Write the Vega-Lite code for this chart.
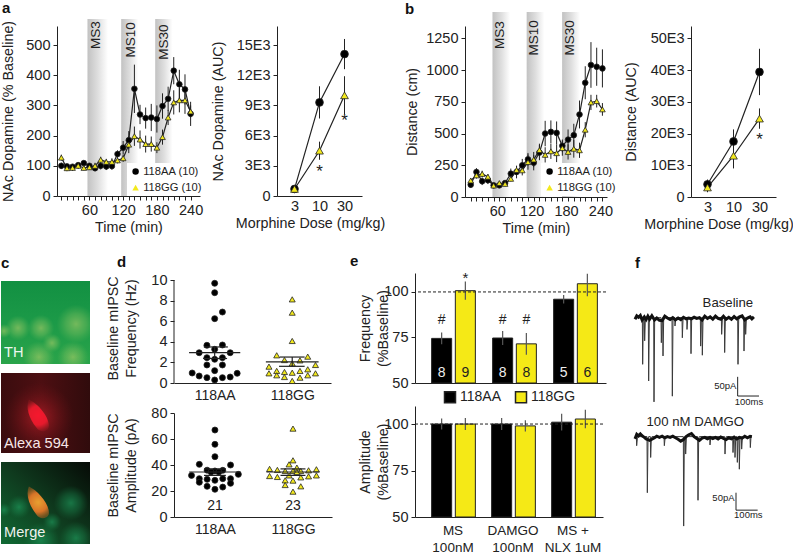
{
"$schema":"https://vega.github.io/schema/vega-lite/v6.json",
"padding":{"left":-2,"top":1,"right":0,"bottom":0},
"background":"white",
"config":{"view":{"stroke":null},
"font":"Liberation Sans",
"axis":{"grid":false,"labelFont":"Liberation Sans","titleFont":"Liberation Sans","labelFontSize":14.5,"titleFontSize":14.3,"titleFontWeight":"normal","labelColor":"#222","titleColor":"#222","domainColor":"#222","tickColor":"#222","tickSize":4,"labelPadding":3,"labelOverlap":false,"labelFlush":false,"titleLineHeight":18},
"title":{"font":"Liberation Sans","fontSize":15,"fontWeight":"bold","color":"#111","anchor":"start","frame":"group"},
"legend":{"labelFont":"Liberation Sans","labelColor":"#222"},
"text":{"font":"Liberation Sans","color":"#222"}},
"datasets":{
"at":[
{"t":10,"g":"118AA (10)","v":100,"lo":90,"hi":110},{"t":20,"g":"118AA (10)","v":98,"lo":90,"hi":106},{"t":30,"g":"118AA (10)","v":97,"lo":89,"hi":105},{"t":40,"g":"118AA (10)","v":102,"lo":94,"hi":110},{"t":50,"g":"118AA (10)","v":109,"lo":101,"hi":117},{"t":60,"g":"118AA (10)","v":100,"lo":92,"hi":108},{"t":70,"g":"118AA (10)","v":92,"lo":82,"hi":102},{"t":80,"g":"118AA (10)","v":100,"lo":88,"hi":112},{"t":90,"g":"118AA (10)","v":98,"lo":86,"hi":110},{"t":100,"g":"118AA (10)","v":99,"lo":87,"hi":111},{"t":110,"g":"118AA (10)","v":139,"lo":127,"hi":151},{"t":120,"g":"118AA (10)","v":160,"lo":138,"hi":182},{"t":130,"g":"118AA (10)","v":185,"lo":155,"hi":215},{"t":140,"g":"118AA (10)","v":355,"lo":275,"hi":435},{"t":150,"g":"118AA (10)","v":270,"lo":238,"hi":302},{"t":160,"g":"118AA (10)","v":258,"lo":223,"hi":293},{"t":170,"g":"118AA (10)","v":260,"lo":215,"hi":305},{"t":180,"g":"118AA (10)","v":255,"lo":210,"hi":300},{"t":190,"g":"118AA (10)","v":298,"lo":256,"hi":340},{"t":200,"g":"118AA (10)","v":322,"lo":282,"hi":362},{"t":210,"g":"118AA (10)","v":415,"lo":370,"hi":460},{"t":220,"g":"118AA (10)","v":370,"lo":322,"hi":418},{"t":230,"g":"118AA (10)","v":353,"lo":303,"hi":403},{"t":240,"g":"118AA (10)","v":272,"lo":232,"hi":312},
{"t":10,"g":"118GG (10)","v":127,"lo":117,"hi":137},{"t":20,"g":"118GG (10)","v":92,"lo":82,"hi":102},{"t":30,"g":"118GG (10)","v":93,"lo":83,"hi":103},{"t":40,"g":"118GG (10)","v":100,"lo":90,"hi":110},{"t":50,"g":"118GG (10)","v":93,"lo":85,"hi":101},{"t":60,"g":"118GG (10)","v":95,"lo":87,"hi":103},{"t":70,"g":"118GG (10)","v":100,"lo":90,"hi":110},{"t":80,"g":"118GG (10)","v":120,"lo":110,"hi":130},{"t":90,"g":"118GG (10)","v":113,"lo":103,"hi":123},{"t":100,"g":"118GG (10)","v":113,"lo":101,"hi":125},{"t":110,"g":"118GG (10)","v":118,"lo":108,"hi":128},{"t":120,"g":"118GG (10)","v":125,"lo":113,"hi":137},{"t":130,"g":"118GG (10)","v":170,"lo":142,"hi":198},{"t":140,"g":"118GG (10)","v":198,"lo":166,"hi":230},{"t":150,"g":"118GG (10)","v":187,"lo":157,"hi":217},{"t":160,"g":"118GG (10)","v":172,"lo":144,"hi":200},{"t":170,"g":"118GG (10)","v":172,"lo":147,"hi":197},{"t":180,"g":"118GG (10)","v":160,"lo":142,"hi":178},{"t":190,"g":"118GG (10)","v":195,"lo":170,"hi":220},{"t":200,"g":"118GG (10)","v":260,"lo":235,"hi":285},{"t":210,"g":"118GG (10)","v":310,"lo":270,"hi":350},{"t":220,"g":"118GG (10)","v":317,"lo":277,"hi":357},{"t":230,"g":"118GG (10)","v":317,"lo":272,"hi":362},{"t":240,"g":"118GG (10)","v":280,"lo":260,"hi":300}],
"bt":[
{"t":10,"g":"118AA (10)","v":97,"lo":72,"hi":122},{"t":20,"g":"118AA (10)","v":197,"lo":167,"hi":227},{"t":30,"g":"118AA (10)","v":124,"lo":94,"hi":154},{"t":40,"g":"118AA (10)","v":132,"lo":102,"hi":162},{"t":50,"g":"118AA (10)","v":92,"lo":72,"hi":112},{"t":60,"g":"118AA (10)","v":92,"lo":72,"hi":112},{"t":70,"g":"118AA (10)","v":110,"lo":90,"hi":130},{"t":80,"g":"118AA (10)","v":184,"lo":144,"hi":224},{"t":90,"g":"118AA (10)","v":197,"lo":147,"hi":247},{"t":100,"g":"118AA (10)","v":250,"lo":200,"hi":300},{"t":110,"g":"118AA (10)","v":297,"lo":247,"hi":347},{"t":120,"g":"118AA (10)","v":270,"lo":210,"hi":330},{"t":130,"g":"118AA (10)","v":350,"lo":290,"hi":410},{"t":140,"g":"118AA (10)","v":500,"lo":400,"hi":600},{"t":150,"g":"118AA (10)","v":513,"lo":423,"hi":603},{"t":160,"g":"118AA (10)","v":505,"lo":415,"hi":595},{"t":170,"g":"118AA (10)","v":403,"lo":353,"hi":453},{"t":180,"g":"118AA (10)","v":452,"lo":372,"hi":532},{"t":190,"g":"118AA (10)","v":487,"lo":397,"hi":577},{"t":200,"g":"118AA (10)","v":650,"lo":540,"hi":760},{"t":210,"g":"118AA (10)","v":900,"lo":770,"hi":1030},{"t":220,"g":"118AA (10)","v":1040,"lo":860,"hi":1220},{"t":230,"g":"118AA (10)","v":1026,"lo":876,"hi":1176},{"t":240,"g":"118AA (10)","v":1013,"lo":863,"hi":1163},
{"t":10,"g":"118GG (10)","v":130,"lo":110,"hi":150},{"t":20,"g":"118GG (10)","v":170,"lo":145,"hi":195},{"t":30,"g":"118GG (10)","v":182,"lo":157,"hi":207},{"t":40,"g":"118GG (10)","v":160,"lo":140,"hi":180},{"t":50,"g":"118GG (10)","v":90,"lo":75,"hi":105},{"t":60,"g":"118GG (10)","v":110,"lo":95,"hi":125},{"t":70,"g":"118GG (10)","v":103,"lo":88,"hi":118},{"t":80,"g":"118GG (10)","v":143,"lo":123,"hi":163},{"t":90,"g":"118GG (10)","v":213,"lo":183,"hi":243},{"t":100,"g":"118GG (10)","v":210,"lo":170,"hi":250},{"t":110,"g":"118GG (10)","v":275,"lo":215,"hi":335},{"t":120,"g":"118GG (10)","v":295,"lo":235,"hi":355},{"t":130,"g":"118GG (10)","v":370,"lo":320,"hi":420},{"t":140,"g":"118GG (10)","v":332,"lo":272,"hi":392},{"t":150,"g":"118GG (10)","v":360,"lo":300,"hi":420},{"t":160,"g":"118GG (10)","v":345,"lo":275,"hi":415},{"t":170,"g":"118GG (10)","v":385,"lo":325,"hi":445},{"t":180,"g":"118GG (10)","v":355,"lo":295,"hi":415},{"t":190,"g":"118GG (10)","v":380,"lo":310,"hi":450},{"t":200,"g":"118GG (10)","v":368,"lo":308,"hi":428},{"t":210,"g":"118GG (10)","v":530,"lo":470,"hi":590},{"t":220,"g":"118GG (10)","v":745,"lo":685,"hi":805},{"t":230,"g":"118GG (10)","v":755,"lo":705,"hi":805},{"t":240,"g":"118GG (10)","v":690,"lo":640,"hi":740}],
"ad":[{"d":3,"g":"118AA","v":700,"lo":500,"hi":900},{"d":10,"g":"118AA","v":9300,"lo":7700,"hi":10900},{"d":30,"g":"118AA","v":14100,"lo":12600,"hi":15600},{"d":3,"g":"118GG","v":700,"lo":400,"hi":1000},{"d":10,"g":"118GG","v":4500,"lo":3600,"hi":5400},{"d":30,"g":"118GG","v":10000,"lo":8100,"hi":11900}],
"bd":[{"d":3,"g":"118AA","v":4000,"lo":2500,"hi":5500},{"d":10,"g":"118AA","v":17500,"lo":13700,"hi":21300},{"d":30,"g":"118AA","v":39400,"lo":32100,"hi":46700},{"d":3,"g":"118GG","v":3000,"lo":1500,"hi":4500},{"d":10,"g":"118GG","v":13000,"lo":9000,"hi":17000},{"d":30,"g":"118GG","v":24700,"lo":21500,"hi":27900}],
"e1":[{"c":"MS|100nM","g":"118AA","v":74.5,"lo":71.3,"hi":77.7,"n":"8"},{"c":"MS|100nM","g":"118GG","v":100.7,"lo":95.7,"hi":105.7,"n":"9"},{"c":"DAMGO|100nM","g":"118AA","v":74.7,"lo":70.9,"hi":78.5,"n":"8"},{"c":"DAMGO|100nM","g":"118GG","v":71.5,"lo":65.5,"hi":77.5,"n":"8"},{"c":"MS +|NLX 1uM","g":"118AA","v":96,"lo":93.7,"hi":98.3,"n":"5"},{"c":"MS +|NLX 1uM","g":"118GG","v":104.5,"lo":97.7,"hi":110,"n":"6"}],
"e2":[{"c":"MS|100nM","g":"118AA","v":100,"lo":97,"hi":103},{"c":"MS|100nM","g":"118GG","v":100,"lo":96.8,"hi":103.2},{"c":"DAMGO|100nM","g":"118AA","v":100,"lo":96.8,"hi":103.2},{"c":"DAMGO|100nM","g":"118GG","v":99,"lo":96,"hi":102},{"c":"MS +|NLX 1uM","g":"118AA","v":101,"lo":96.5,"hi":105.5},{"c":"MS +|NLX 1uM","g":"118GG","v":102.7,"lo":97.7,"hi":107.7}],
"d1":[{"p":1,"v":9.68,"g":"118AA"},{"p":1,"v":8.77,"g":"118AA"},{"p":1.1,"v":6.89,"g":"118AA"},{"p":1,"v":6.25,"g":"118AA"},{"p":0.9,"v":3.66,"g":"118AA"},{"p":1.1,"v":3.69,"g":"118AA"},{"p":1,"v":3.27,"g":"118AA"},{"p":0.8,"v":2.94,"g":"118AA"},{"p":1.2,"v":2.94,"g":"118AA"},{"p":0.9,"v":2.46,"g":"118AA"},{"p":1.1,"v":2.46,"g":"118AA"},{"p":1,"v":2.3,"g":"118AA"},{"p":0.9,"v":1.75,"g":"118AA"},{"p":1.1,"v":1.75,"g":"118AA"},{"p":1,"v":1.2,"g":"118AA"},{"p":0.71,"v":0.97,"g":"118AA"},{"p":1.29,"v":0.94,"g":"118AA"},{"p":0.8,"v":0.68,"g":"118AA"},{"p":0.9,"v":0.52,"g":"118AA"},{"p":1.1,"v":0.52,"g":"118AA"},{"p":1.2,"v":0.58,"g":"118AA"},{"p":1,"v":0.29,"g":"118AA"},
{"p":2,"v":8.12,"g":"118GG"},{"p":2,"v":6.83,"g":"118GG"},{"p":2,"v":4.08,"g":"118GG"},{"p":1.8,"v":2.69,"g":"118GG"},{"p":2.2,"v":2.56,"g":"118GG"},{"p":1.9,"v":2.23,"g":"118GG"},{"p":2.1,"v":2.2,"g":"118GG"},{"p":2,"v":1.9,"g":"118GG"},{"p":2.3,"v":1.75,"g":"118GG"},{"p":1.7,"v":1.59,"g":"118GG"},{"p":1.7,"v":0.94,"g":"118GG"},{"p":2.2,"v":1.33,"g":"118GG"},{"p":1.8,"v":1.17,"g":"118GG"},{"p":1.9,"v":1.07,"g":"118GG"},{"p":2.1,"v":1.17,"g":"118GG"},{"p":2,"v":1,"g":"118GG"},{"p":2.3,"v":0.94,"g":"118GG"},{"p":2.2,"v":0.75,"g":"118GG"},{"p":1.8,"v":0.75,"g":"118GG"},{"p":1.9,"v":0.58,"g":"118GG"},{"p":2.1,"v":0.52,"g":"118GG"},{"p":2,"v":0.2,"g":"118GG"}],
"d2":[{"p":1,"v":66.9,"g":"118AA"},{"p":1,"v":55.9,"g":"118AA"},{"p":1,"v":46.4,"g":"118AA"},{"p":0.8,"v":40.5,"g":"118AA"},{"p":1.2,"v":40,"g":"118AA"},{"p":0.9,"v":36,"g":"118AA"},{"p":1.1,"v":35.9,"g":"118AA"},{"p":1,"v":35.4,"g":"118AA"},{"p":0.95,"v":34.6,"g":"118AA"},{"p":1.05,"v":34.6,"g":"118AA"},{"p":0.7,"v":32,"g":"118AA"},{"p":1.3,"v":32.8,"g":"118AA"},{"p":0.8,"v":29.5,"g":"118AA"},{"p":0.9,"v":29,"g":"118AA"},{"p":1,"v":28.2,"g":"118AA"},{"p":1.1,"v":29.5,"g":"118AA"},{"p":1.2,"v":29.5,"g":"118AA"},{"p":0.8,"v":26.7,"g":"118AA"},{"p":1.2,"v":25.9,"g":"118AA"},{"p":0.9,"v":23.6,"g":"118AA"},{"p":1.1,"v":23,"g":"118AA"},{"p":1,"v":21.3,"g":"118AA"},
{"p":2,"v":68,"g":"118GG"},{"p":2,"v":43.6,"g":"118GG"},{"p":1.95,"v":40.5,"g":"118GG"},{"p":1.7,"v":37,"g":"118GG"},{"p":1.8,"v":36.2,"g":"118GG"},{"p":1.9,"v":35.4,"g":"118GG"},{"p":2.05,"v":38,"g":"118GG"},{"p":2,"v":35.4,"g":"118GG"},{"p":2.1,"v":35.4,"g":"118GG"},{"p":2.2,"v":35.9,"g":"118GG"},{"p":2.3,"v":36.7,"g":"118GG"},{"p":1.7,"v":31.5,"g":"118GG"},{"p":1.8,"v":30.8,"g":"118GG"},{"p":1.95,"v":32,"g":"118GG"},{"p":2.1,"v":30.5,"g":"118GG"},{"p":2.2,"v":31.3,"g":"118GG"},{"p":2.3,"v":32,"g":"118GG"},{"p":1.9,"v":28.2,"g":"118GG"},{"p":2,"v":28,"g":"118GG"},{"p":1.9,"v":24.6,"g":"118GG"},{"p":2.1,"v":23.6,"g":"118GG"},{"p":2,"v":19.5,"g":"118GG"},{"p":2.05,"v":34.6,"g":"118GG"}],
"f1t":[{"t":0,"v":-2},{"t":33,"v":-2},{"t":34.5,"v":-125},{"t":37.5,"v":-8},{"t":40.5,"v":-2},{"t":42,"v":-2},{"t":43.5,"v":-63},{"t":46.5,"v":-8},{"t":49.5,"v":-2},{"t":60,"v":-2},{"t":61.5,"v":-169},{"t":64.5,"v":-8},{"t":67.5,"v":-2},{"t":84,"v":-2},{"t":85.5,"v":-224},{"t":88.5,"v":-8},{"t":91.5,"v":-2},{"t":117,"v":-2},{"t":118.5,"v":-68},{"t":121.5,"v":-8},{"t":124.5,"v":-2},{"t":126,"v":-103},{"t":129,"v":-8},{"t":132,"v":-2},{"t":166.5,"v":-2},{"t":168,"v":-209},{"t":171,"v":-8},{"t":174,"v":-2},{"t":178.5,"v":-2},{"t":180,"v":-24},{"t":183,"v":-8},{"t":186,"v":-2},{"t":211.5,"v":-2},{"t":213,"v":-55},{"t":216,"v":-8},{"t":219,"v":-2},{"t":232.5,"v":-2},{"t":234,"v":-33},{"t":237,"v":-8},{"t":240,"v":-2},{"t":250.5,"v":-2},{"t":252,"v":-97},{"t":255,"v":-8},{"t":258,"v":-2},{"t":294,"v":-2},{"t":295.5,"v":-77},{"t":298.5,"v":-8},{"t":301.5,"v":-2},{"t":303,"v":-101},{"t":306,"v":-8},{"t":309,"v":-2},{"t":388.5,"v":-2},{"t":390,"v":-46},{"t":393,"v":-8},{"t":396,"v":-2},{"t":402,"v":-2},{"t":403.5,"v":-94},{"t":406.5,"v":-8},{"t":409.5,"v":-2},{"t":462,"v":-2},{"t":463.5,"v":-125},{"t":466.5,"v":-8},{"t":469.5,"v":-2},{"t":489,"v":-2},{"t":490.5,"v":-90},{"t":493.5,"v":-8},{"t":496.5,"v":-2},{"t":498,"v":-46},{"t":501,"v":-8},{"t":504,"v":-2},{"t":535,"v":-2}],
"f1n":[{"t":0,"v":-6},{"t":8,"v":3},{"t":16,"v":-1},{"t":24,"v":4},{"t":32,"v":-8},{"t":42,"v":0},{"t":50,"v":-7},{"t":58,"v":2},{"t":66,"v":-6},{"t":76,"v":3},{"t":88,"v":-8},{"t":98,"v":-3},{"t":110,"v":-9},{"t":122,"v":-10},{"t":134,"v":2},{"t":146,"v":-3},{"t":158,"v":-7},{"t":170,"v":-2},{"t":182,"v":-8},{"t":194,"v":-3},{"t":206,"v":-7},{"t":218,"v":-1},{"t":230,"v":-5},{"t":242,"v":-3},{"t":254,"v":-5},{"t":266,"v":-1},{"t":278,"v":-4},{"t":290,"v":-2},{"t":302,"v":-8},{"t":314,"v":2},{"t":326,"v":-4},{"t":338,"v":0},{"t":350,"v":-6},{"t":362,"v":2},{"t":374,"v":-4},{"t":386,"v":-6},{"t":398,"v":2},{"t":410,"v":-6},{"t":422,"v":-1},{"t":434,"v":-6},{"t":446,"v":1},{"t":458,"v":-5},{"t":470,"v":0},{"t":482,"v":3},{"t":494,"v":-8},{"t":506,"v":-3},{"t":518,"v":0},{"t":526,"v":-5},{"t":535,"v":0}],
"f2t":[{"t":0,"v":-2},{"t":6,"v":-2},{"t":7.5,"v":-26},{"t":10.5,"v":-8},{"t":13.5,"v":-2},{"t":54,"v":-2},{"t":55.5,"v":-150},{"t":58.5,"v":-8},{"t":61.5,"v":-2},{"t":69,"v":-2},{"t":70.5,"v":-57},{"t":73.5,"v":-8},{"t":76.5,"v":-2},{"t":130.5,"v":-2},{"t":132,"v":-26},{"t":135,"v":-8},{"t":138,"v":-2},{"t":217.5,"v":-2},{"t":219,"v":-238},{"t":222,"v":-8},{"t":225,"v":-2},{"t":226.5,"v":-2},{"t":228,"v":-48},{"t":231,"v":-8},{"t":234,"v":-2},{"t":282,"v":-2},{"t":283.5,"v":-170},{"t":286.5,"v":-8},{"t":289.5,"v":-2},{"t":336,"v":-2},{"t":337.5,"v":-24},{"t":340.5,"v":-8},{"t":343.5,"v":-2},{"t":403.5,"v":-2},{"t":405,"v":-48},{"t":408,"v":-8},{"t":411,"v":-2},{"t":439.5,"v":-2},{"t":441,"v":-44},{"t":444,"v":-8},{"t":447,"v":-2},{"t":448.5,"v":-2},{"t":450,"v":-57},{"t":453,"v":-8},{"t":456,"v":-2},{"t":459,"v":-2},{"t":460.5,"v":-70},{"t":463.5,"v":-8},{"t":466.5,"v":-2},{"t":468,"v":-2},{"t":469.5,"v":-88},{"t":472.5,"v":-8},{"t":475.5,"v":-2},{"t":478.5,"v":-2},{"t":480,"v":-35},{"t":483,"v":-8},{"t":486,"v":-2},{"t":517.5,"v":-2},{"t":519,"v":-31},{"t":522,"v":-2}],
"f2n":[{"t":0,"v":-8},{"t":8,"v":4},{"t":16,"v":0},{"t":24,"v":5},{"t":32,"v":0},{"t":42,"v":-4},{"t":50,"v":-8},{"t":58,"v":-10},{"t":66,"v":-12},{"t":76,"v":-9},{"t":88,"v":-5},{"t":98,"v":-1},{"t":110,"v":-4},{"t":122,"v":-1},{"t":134,"v":-5},{"t":146,"v":-2},{"t":158,"v":-4},{"t":170,"v":-1},{"t":182,"v":-5},{"t":194,"v":-9},{"t":206,"v":-14},{"t":218,"v":-10},{"t":230,"v":-2},{"t":242,"v":3},{"t":254,"v":6},{"t":266,"v":-2},{"t":278,"v":-7},{"t":290,"v":-12},{"t":302,"v":-6},{"t":314,"v":-4},{"t":326,"v":-8},{"t":338,"v":-4},{"t":350,"v":-7},{"t":362,"v":-4},{"t":374,"v":-8},{"t":386,"v":-3},{"t":398,"v":-7},{"t":410,"v":-10},{"t":422,"v":-5},{"t":434,"v":-8},{"t":446,"v":-3},{"t":458,"v":-8},{"t":470,"v":-4},{"t":482,"v":-6},{"t":494,"v":-1},{"t":506,"v":-5},{"t":518,"v":-1},{"t":526,"v":-2}]
},
"spacing":18,
"resolve":{"scale":{"fill":"independent","shape":"independent"}},
"vconcat":[
{"spacing":20,"resolve":{"scale":{"fill":"independent","shape":"independent"}},"hconcat":[
{"bounds":"flush","spacing":55,"resolve":{"scale":{"fill":"independent","shape":"independent"}},"hconcat":[
{"width":1,"height":1,"data":{"values":[{"k":1}]},"mark":{"type":"point","opacity":0}},
{"bounds":"flush","spacing":77,"resolve":{"scale":{"fill":"independent","shape":"independent"}},"hconcat":[
{"width":143,"height":170,"title":{"text":"a","dx":-55,"offset":3},
"encoding":{"x":{"field":"t","type":"quantitative","scale":{"domain":[2.3,256.7],"nice":false,"zero":false},"axis":{"title":"Time (min)","values":[10,20,30,40,50,60,70,80,90,100,110,120,130,140,150,160,170,180,190,200,210,220,230,240],"labelExpr":"datum.value%60==0?datum.value:''"}},"y":{"field":"v","type":"quantitative","scale":{"domain":[0,563],"nice":false},"axis":{"title":"NAc Dopamine (% Baseline)","values":[0,100,200,300,400,500],"titleX":-42}}},
"layer":[
{"data":{"values":[{"t":56.5,"t2":93,"v":0,"v2":586},{"t":116.5,"t2":147,"v":0,"v2":586},{"t":177,"t2":208,"v":0,"v2":586}]},"mark":{"type":"rect","fill":{"gradient":"linear","x1":0,"y1":0,"x2":1,"y2":0,"stops":[{"offset":0,"color":"#c2c2c2"},{"offset":0.5,"color":"#dedede"},{"offset":1,"color":"#ffffff"}]}},"encoding":{"x2":{"field":"t2"},"y2":{"field":"v2"}}},
{"data":{"values":[{"t":72,"v":533,"l":"MS3"},{"t":134,"v":517,"l":"MS10"},{"t":192,"v":510,"l":"MS30"}]},"mark":{"type":"text","angle":270,"fontSize":13.5,"align":"center","baseline":"middle"},"encoding":{"text":{"field":"l"}}},
{"data":{"name":"at"},"mark":{"type":"rule","color":"#222","strokeWidth":1},"encoding":{"y":{"field":"lo","type":"quantitative"},"y2":{"field":"hi"},"detail":{"field":"g"}}},
{"data":{"name":"at"},"mark":{"type":"line","color":"#222","strokeWidth":1.2},"encoding":{"detail":{"field":"g"}}},
{"data":{"name":"at"},"mark":{"type":"point","filled":true,"stroke":"#222","strokeWidth":0.8,"opacity":1,"size":32},"encoding":{"fill":{"field":"g","type":"nominal","scale":{"domain":["118AA (10)","118GG (10)"],"range":["#000000","#f3e91e"]},"legend":{"orient":"none","legendX":70,"legendY":137,"title":null,"fillColor":"white","padding":3,"labelFontSize":11.2,"symbolSize":42,"rowPadding":4,"labelOffset":2,"symbolStrokeColor":"#222","symbolStrokeWidth":0.8}},"shape":{"field":"g","type":"nominal","scale":{"domain":["118AA (10)","118GG (10)"],"range":["circle","triangle-up"]},"legend":{"orient":"none","legendX":70,"legendY":137,"title":null,"fillColor":"white","padding":3,"labelFontSize":11.2,"symbolSize":42,"rowPadding":4,"labelOffset":2,"symbolStrokeColor":"#222","symbolStrokeWidth":0.8}}}}
]},
{"width":85,"height":170,
"encoding":{"x":{"field":"d","type":"ordinal","scale":{"type":"point","domain":[3,10,30],"padding":0.7},"axis":{"title":"Morphine Dose (mg/kg)","labelAngle":0,"ticks":false,"titleX":33}},"y":{"field":"v","type":"quantitative","scale":{"domain":[0,16890],"nice":false},"axis":{"title":"NAc Dopamine (AUC)","values":[0,3000,6000,9000,12000,15000],"labelExpr":"datum.value==0?'0':(datum.value/1000)+'E3'","titleX":-52}}},
"layer":[
{"data":{"name":"ad"},"mark":{"type":"rule","color":"#222","strokeWidth":1},"encoding":{"y":{"field":"lo","type":"quantitative"},"y2":{"field":"hi"},"detail":{"field":"g"}}},
{"data":{"name":"ad"},"mark":{"type":"line","color":"#222","strokeWidth":1.2},"encoding":{"detail":{"field":"g"}}},
{"data":{"name":"ad"},"mark":{"type":"point","filled":true,"stroke":"#222","strokeWidth":0.8,"opacity":1,"size":60},"encoding":{"fill":{"field":"g","type":"nominal","scale":{"domain":["118AA","118GG"],"range":["#000000","#f3e91e"]},"legend":null},"shape":{"field":"g","type":"nominal","scale":{"domain":["118AA","118GG"],"range":["circle","triangle-up"]},"legend":null}}},
{"data":{"values":[{"d":10,"v":2400,"l":"*"},{"d":30,"v":7500,"l":"*"}]},"mark":{"type":"text","fontSize":17,"baseline":"middle"},"encoding":{"text":{"field":"l"}}}
]}
]}
]},
{"bounds":"flush","spacing":84,"resolve":{"scale":{"fill":"independent","shape":"independent"}},"hconcat":[
{"width":142,"height":171,"title":{"text":"b","dx":-60,"offset":-5},
"encoding":{"x":{"field":"t","type":"quantitative","scale":{"domain":[0,248],"nice":false,"zero":false},"axis":{"title":"Time (min)","values":[10,20,30,40,50,60,70,80,90,100,110,120,130,140,150,160,170,180,190,200,210,220,230,240],"labelExpr":"datum.value%60==0?datum.value:''","labelOffset":-2}},"y":{"field":"v","type":"quantitative","scale":{"domain":[0,1347],"nice":false},"axis":{"title":"Distance (cm)","values":[0,250,500,750,1000,1250],"format":"d","titleX":-46}}},
"layer":[
{"data":{"values":[{"t":48,"t2":79,"v":0,"v2":1457},{"t":107.7,"t2":138.6,"v":0,"v2":1457},{"t":169.6,"t2":201,"v":0,"v2":1457}]},"mark":{"type":"rect","fill":{"gradient":"linear","x1":0,"y1":0,"x2":1,"y2":0,"stops":[{"offset":0,"color":"#c2c2c2"},{"offset":0.5,"color":"#dedede"},{"offset":1,"color":"#ffffff"}]}},"encoding":{"x2":{"field":"t2"},"y2":{"field":"v2"}}},
{"data":{"values":[{"t":61,"v":1276,"l":"MS3"},{"t":121,"v":1253,"l":"MS10"},{"t":184,"v":1253,"l":"MS30"}]},"mark":{"type":"text","angle":270,"fontSize":13.5,"align":"center","baseline":"middle"},"encoding":{"text":{"field":"l"}}},
{"data":{"name":"bt"},"mark":{"type":"rule","color":"#222","strokeWidth":1},"encoding":{"y":{"field":"lo","type":"quantitative"},"y2":{"field":"hi"},"detail":{"field":"g"}}},
{"data":{"name":"bt"},"mark":{"type":"line","color":"#222","strokeWidth":1.2},"encoding":{"detail":{"field":"g"}}},
{"data":{"name":"bt"},"mark":{"type":"point","filled":true,"stroke":"#222","strokeWidth":0.8,"opacity":1,"size":32},"encoding":{"fill":{"field":"g","type":"nominal","scale":{"domain":["118AA (10)","118GG (10)"],"range":["#000000","#f3e91e"]},"legend":{"orient":"none","legendX":76,"legendY":137,"title":null,"fillColor":"white","padding":3,"labelFontSize":11.2,"symbolSize":42,"rowPadding":4,"labelOffset":2,"symbolStrokeColor":"#222","symbolStrokeWidth":0.8}},"shape":{"field":"g","type":"nominal","scale":{"domain":["118AA (10)","118GG (10)"],"range":["circle","triangle-up"]},"legend":{"orient":"none","legendX":76,"legendY":137,"title":null,"fillColor":"white","padding":3,"labelFontSize":11.2,"symbolSize":42,"rowPadding":4,"labelOffset":2,"symbolStrokeColor":"#222","symbolStrokeWidth":0.8}}}}
]},
{"width":85,"height":171,
"encoding":{"x":{"field":"d","type":"ordinal","scale":{"type":"point","domain":[3,10,30],"padding":0.635},"axis":{"title":"Morphine Dose (mg/kg)","labelAngle":0,"ticks":false,"titleX":27.5}},"y":{"field":"v","type":"quantitative","scale":{"domain":[0,53875],"nice":false},"axis":{"title":"Distance (AUC)","values":[0,10000,20000,30000,40000,50000],"labelExpr":"datum.value==0?'0':(datum.value/1000)+'E3'","titleX":-53}}},
"layer":[
{"data":{"name":"bd"},"mark":{"type":"rule","color":"#222","strokeWidth":1},"encoding":{"y":{"field":"lo","type":"quantitative"},"y2":{"field":"hi"},"detail":{"field":"g"}}},
{"data":{"name":"bd"},"mark":{"type":"line","color":"#222","strokeWidth":1.2},"encoding":{"detail":{"field":"g"}}},
{"data":{"name":"bd"},"mark":{"type":"point","filled":true,"stroke":"#222","strokeWidth":0.8,"opacity":1,"size":60},"encoding":{"fill":{"field":"g","type":"nominal","scale":{"domain":["118AA","118GG"],"range":["#000000","#f3e91e"]},"legend":null},"shape":{"field":"g","type":"nominal","scale":{"domain":["118AA","118GG"],"range":["circle","triangle-up"]},"legend":null}}},
{"data":{"values":[{"d":30,"v":18000,"l":"*"}]},"mark":{"type":"text","fontSize":17,"baseline":"middle"},"encoding":{"text":{"field":"l"}}}
]}
]}
]},
{"spacing":18,"resolve":{"scale":{"fill":"independent","shape":"independent"}},"hconcat":[
{"spacing":16,"resolve":{"scale":{"fill":"independent","shape":"independent"}},"hconcat":[
{"bounds":"flush","spacing":9,"vconcat":[
{"width":89,"height":91,"title":{"text":"c","dx":0,"offset":2},
"encoding":{"x":{"field":"x","type":"quantitative","scale":{"domain":[0,89]},"axis":null},"y":{"field":"y","type":"quantitative","scale":{"domain":[83,-8],"nice":false,"zero":false},"axis":null}},
"layer":[
{"data":{"values":[{"x":0,"x2":89,"y":0,"y2":83}]},"mark":{"type":"rect","fill":{"gradient":"linear","x1":0,"y1":0,"x2":0,"y2":1,"stops":[{"offset":0,"color":"#129042"},{"offset":0.5,"color":"#1c9a48"},{"offset":1,"color":"#2aa44a"}]}},"encoding":{"x2":{"field":"x2"},"y2":{"field":"y2"}}},
{"data":{"values":[{"x":17,"y":47,"s":620},{"x":40,"y":47,"s":700},{"x":3,"y":50,"s":200},{"x":51,"y":62,"s":350},{"x":38,"y":76,"s":1000},{"x":72,"y":76,"s":1000},{"x":75,"y":43,"s":1500}]},"mark":{"type":"point","clip":true,"filled":true,"opacity":1,"fill":{"gradient":"radial","stops":[{"offset":0,"color":"rgba(175,205,105,0.6)"},{"offset":0.55,"color":"rgba(150,200,100,0.32)"},{"offset":1,"color":"rgba(120,190,90,0)"}]}},"encoding":{"size":{"field":"s","type":"quantitative","scale":null,"legend":null}}},
{"data":{"values":[{"x":3,"y":72,"l":"TH"}]},"mark":{"type":"text","align":"left","baseline":"middle","fontSize":14.6,"color":"#eef7ee"},"encoding":{"text":{"field":"l"}}}
]},
{"width":89,"height":80,
"encoding":{"x":{"field":"x","type":"quantitative","scale":{"domain":[0,89]},"axis":null},"y":{"field":"y","type":"quantitative","scale":{"domain":[80,0],"nice":false,"zero":false},"axis":null}},
"layer":[
{"data":{"values":[{"x":0,"x2":89,"y":0,"y2":80}]},"mark":{"type":"rect","fill":{"gradient":"linear","x1":0,"y1":0,"x2":1,"y2":0,"stops":[{"offset":0,"color":"#3a0c0e"},{"offset":0.45,"color":"#4d0f12"},{"offset":1,"color":"#300b0c"}]}},"encoding":{"x2":{"field":"x2"},"y2":{"field":"y2"}}},
{"data":{"values":[{"x":38,"y":44,"s":4800}]},"mark":{"type":"point","clip":true,"filled":true,"opacity":1,"fill":{"gradient":"radial","stops":[{"offset":0,"color":"rgba(190,30,40,0.75)"},{"offset":1,"color":"rgba(120,20,25,0)"}]}},"encoding":{"size":{"field":"s","type":"quantitative","scale":null,"legend":null}}},
{"data":{"values":[{"x":37,"y":43,"s":1100}]},"mark":{"type":"point","filled":true,"opacity":1,"shape":"M-0.55,-1 C0,-0.75 0.75,0.1 0.65,0.7 C0.5,1 0.1,1 -0.1,0.7 C-0.55,0.1 -0.75,-0.5 -0.55,-1 Z","fill":{"gradient":"radial","stops":[{"offset":0,"color":"#f5182e"},{"offset":0.6,"color":"#e61a2c"},{"offset":1,"color":"rgba(200,30,40,0.2)"}]}},"encoding":{"size":{"field":"s","type":"quantitative","scale":null,"legend":null}}},
{"data":{"values":[{"x":3,"y":70.7,"l":"Alexa 594"}]},"mark":{"type":"text","align":"left","baseline":"middle","fontSize":14.6,"color":"#f7e6e6"},"encoding":{"text":{"field":"l"}}}
]},
{"width":89,"height":82,
"encoding":{"x":{"field":"x","type":"quantitative","scale":{"domain":[0,89]},"axis":null},"y":{"field":"y","type":"quantitative","scale":{"domain":[82,0],"nice":false,"zero":false},"axis":null}},
"layer":[
{"data":{"values":[{"x":0,"x2":89,"y":0,"y2":82}]},"mark":{"type":"rect","fill":{"gradient":"linear","x1":1,"y1":0,"x2":0,"y2":1,"stops":[{"offset":0,"color":"#060a06"},{"offset":0.5,"color":"#0f3a1e"},{"offset":1,"color":"#106a34"}]}},"encoding":{"x2":{"field":"x2"},"y2":{"field":"y2"}}},
{"data":{"values":[{"x":18,"y":45,"s":550},{"x":3,"y":48,"s":200},{"x":51,"y":60,"s":350},{"x":40,"y":78,"s":1300},{"x":75,"y":76,"s":1100},{"x":70,"y":41,"s":1200}]},"mark":{"type":"point","clip":true,"filled":true,"opacity":1,"fill":{"gradient":"radial","stops":[{"offset":0,"color":"rgba(30,150,90,0.7)"},{"offset":0.55,"color":"rgba(25,130,75,0.4)"},{"offset":1,"color":"rgba(20,110,60,0)"}]}},"encoding":{"size":{"field":"s","type":"quantitative","scale":null,"legend":null}}},
{"data":{"values":[{"x":37,"y":41,"s":1100}]},"mark":{"type":"point","filled":true,"opacity":1,"shape":"M-0.55,-1 C0,-0.75 0.75,0.1 0.65,0.7 C0.5,1 0.1,1 -0.1,0.7 C-0.55,0.1 -0.75,-0.5 -0.55,-1 Z","fill":{"gradient":"radial","stops":[{"offset":0,"color":"#e8a030"},{"offset":0.6,"color":"#d87428"},{"offset":1,"color":"rgba(150,90,30,0.6)"}]}},"encoding":{"size":{"field":"s","type":"quantitative","scale":null,"legend":null}}},
{"data":{"values":[{"x":3,"y":71,"l":"Merge"}]},"mark":{"type":"text","align":"left","baseline":"middle","fontSize":14.6,"color":"#eef2ee"},"encoding":{"text":{"field":"l"}}}
]}
]},
{"bounds":"flush","spacing":30,"resolve":{"scale":{"fill":"independent","shape":"independent"}},"vconcat":[
{"width":157,"height":110,"title":{"text":"d","dx":-57,"offset":2},
"encoding":{"x":{"field":"p","type":"quantitative","scale":{"domain":[0.4755,2.5],"nice":false,"zero":false},"axis":{"title":null,"values":[1,2],"labelExpr":"datum.value==1?'118AA':'118GG'","ticks":false,"labelPadding":5,"labelFontSize":14}},"y":{"field":"v","type":"quantitative","scale":{"domain":[0,10.68],"nice":false},"axis":{"title":["Baseline mIPSC","Frequency (Hz)"],"values":[0,2,4,6,8,10],"domain":false,"titleX":-54}}},
"layer":[
{"data":{"values":[{"p":0.4755,"v":0,"v2":10}]},"mark":{"type":"rule","color":"#222"},"encoding":{"y2":{"field":"v2"}}},
{"data":{"name":"d1"},"mark":{"type":"point","filled":true,"stroke":"#222","strokeWidth":0.8,"opacity":1,"size":36},"encoding":{"fill":{"field":"g","type":"nominal","scale":{"domain":["118AA","118GG"],"range":["#000000","#f3e91e"]},"legend":null},"shape":{"field":"g","type":"nominal","scale":{"domain":["118AA","118GG"],"range":["circle","triangle-up"]},"legend":null}}},
{"data":{"values":[{"p":0.67,"p2":1.33,"v":2.94},{"p":0.86,"p2":1.17,"v":3.5},{"p":0.85,"p2":1.16,"v":2.38},{"p":1.66,"p2":2.34,"v":2.05},{"p":1.84,"p2":2.16,"v":2.52},{"p":1.83,"p2":2.16,"v":1.62}]},"mark":{"type":"rule","color":"#222","strokeWidth":1.2},"encoding":{"x2":{"field":"p2"}}},
{"data":{"values":[{"p":1,"v":2.38,"v2":3.5},{"p":2,"v":1.62,"v2":2.52}]},"mark":{"type":"rule","color":"#222","strokeWidth":1.2},"encoding":{"y2":{"field":"v2"}}}
]},
{"width":158,"height":104,
"encoding":{"x":{"field":"p","type":"quantitative","scale":{"domain":[0.4755,2.5],"nice":false,"zero":false},"axis":{"title":null,"values":[1,2],"labelExpr":"datum.value==1?'118AA':'118GG'","ticks":false,"labelPadding":5,"labelFontSize":14}},"y":{"field":"v","type":"quantitative","scale":{"domain":[0,80],"nice":false},"axis":{"title":["Baseline mIPSC","Amplitude (pA)"],"values":[0,20,40,60,80],"titleX":-54}}},
"layer":[
{"data":{"name":"d2"},"mark":{"type":"point","filled":true,"stroke":"#222","strokeWidth":0.8,"opacity":1,"size":36},"encoding":{"fill":{"field":"g","type":"nominal","scale":{"domain":["118AA","118GG"],"range":["#000000","#f3e91e"]},"legend":null},"shape":{"field":"g","type":"nominal","scale":{"domain":["118AA","118GG"],"range":["circle","triangle-up"]},"legend":null}}},
{"data":{"values":[{"p":0.67,"p2":1.33,"v":34.6},{"p":0.86,"p2":1.14,"v":37},{"p":0.86,"p2":1.14,"v":32},{"p":1.66,"p2":2.34,"v":34.6},{"p":1.84,"p2":2.16,"v":37},{"p":1.84,"p2":2.16,"v":32}]},"mark":{"type":"rule","color":"#222","strokeWidth":1.2},"encoding":{"x2":{"field":"p2"}}},
{"data":{"values":[{"p":1,"v":8.5,"l":"21"},{"p":2,"v":8.5,"l":"23"}]},"mark":{"type":"text","fontSize":14,"baseline":"middle"},"encoding":{"text":{"field":"l"}}}
]}
]}
]},
{"spacing":21,"resolve":{"scale":{"fill":"independent","shape":"independent"}},"hconcat":[
{"bounds":"flush","spacing":23,"resolve":{"scale":{"fill":"independent","shape":"independent"}},"vconcat":[
{"width":191,"height":110,"title":{"text":"e","dx":-65,"offset":2},
"encoding":{"x":{"field":"c","type":"nominal","scale":{"type":"band","domain":["MS|100nM","DAMGO|100nM","MS +|NLX 1uM"],"paddingInner":0,"paddingOuter":0.0656,"align":1},"axis":{"title":null,"labels":false,"ticks":false}},"xOffset":{"field":"g","type":"nominal","scale":{"type":"band","domain":["118AA","118GG"],"paddingInner":0.155,"paddingOuter":0.364}},"y":{"field":"v","type":"quantitative","scale":{"domain":[50,110.4],"nice":false,"zero":false},"axis":{"title":["Frequency","(%Baseline)"],"values":[50,75,100],"titleX":-43}}},
"layer":[
{"data":{"name":"e1"},"mark":{"type":"bar","stroke":"#222","strokeWidth":1},"encoding":{"y2":{"datum":50},"fill":{"field":"g","type":"nominal","scale":{"domain":["118AA","118GG"],"range":["#000000","#f5e916"]},"legend":{"orient":"none","legendX":26,"legendY":115,"title":null,"direction":"horizontal","columns":2,"symbolType":"square","symbolSize":121,"symbolStrokeColor":"#222","labelFontSize":14,"labelOffset":3,"columnPadding":11,"padding":2}}}},
{"data":{"name":"e1"},"mark":{"type":"rule","color":"#555","strokeWidth":1.2},"encoding":{"y":{"field":"lo","type":"quantitative"},"y2":{"field":"hi"}}},
{"data":{"values":[{"v":100}]},"mark":{"type":"rule","color":"#222","strokeDash":[3,2]},"encoding":{"x":null,"xOffset":null}},
{"data":{"name":"e1"},"transform":[{"filter":"datum.g=='118AA'"}],"mark":{"type":"text","fontSize":14,"color":"#eeeeee","baseline":"middle"},"encoding":{"y":{"datum":55.3},"text":{"field":"n"}}},
{"data":{"name":"e1"},"transform":[{"filter":"datum.g=='118GG'"}],"mark":{"type":"text","fontSize":14,"color":"#222","baseline":"middle"},"encoding":{"y":{"datum":55.3},"text":{"field":"n"}}},
{"data":{"values":[{"c":"MS|100nM","g":"118AA","v":84.4,"l":"#"},{"c":"DAMGO|100nM","g":"118AA","v":84.4,"l":"#"},{"c":"DAMGO|100nM","g":"118GG","v":84.4,"l":"#"}]},"mark":{"type":"text","fontSize":14,"baseline":"middle"},"encoding":{"text":{"field":"l"}}},
{"data":{"values":[{"c":"MS|100nM","g":"118GG","v":107.5,"l":"*"}]},"mark":{"type":"text","fontSize":15,"baseline":"middle"},"encoding":{"text":{"field":"l"}}}
]},
{"width":188,"height":111,
"encoding":{"x":{"field":"c","type":"nominal","scale":{"type":"band","domain":["MS|100nM","DAMGO|100nM","MS +|NLX 1uM"],"paddingInner":0,"paddingOuter":0.0667,"align":1},"axis":{"title":null,"ticks":false,"labelAngle":0,"labelExpr":"split(datum.label,'|')","labelPadding":6,"labelFontSize":13.5,"labelLineHeight":17}},"xOffset":{"field":"g","type":"nominal","scale":{"type":"band","domain":["118AA","118GG"],"paddingInner":0.17,"paddingOuter":0.39}},"y":{"field":"v","type":"quantitative","scale":{"domain":[50,109.7],"nice":false,"zero":false},"axis":{"title":["Amplitude","(%Baseline)"],"values":[50,75,100],"titleX":-43}}},
"layer":[
{"data":{"name":"e2"},"mark":{"type":"bar","stroke":"#222","strokeWidth":1},"encoding":{"y2":{"datum":50},"fill":{"field":"g","type":"nominal","scale":{"domain":["118AA","118GG"],"range":["#000000","#f5e916"]},"legend":null}}},
{"data":{"name":"e2"},"mark":{"type":"rule","color":"#555","strokeWidth":1.2},"encoding":{"y":{"field":"lo","type":"quantitative"},"y2":{"field":"hi"}}},
{"data":{"values":[{"v":100}]},"mark":{"type":"rule","color":"#222","strokeDash":[3,2]},"encoding":{"x":null,"xOffset":null}}
]}
]},
{"bounds":"flush","spacing":23,"vconcat":[
{"width":133,"height":130,"title":{"text":"f","dx":7,"offset":2},
"encoding":{"x":{"field":"t","type":"quantitative","scale":{"domain":[-31.5,567],"nice":false,"zero":false},"axis":null},"y":{"field":"v","type":"quantitative","scale":{"domain":[-227,115.8],"nice":false,"zero":false},"axis":null}},
"layer":[
{"data":{"name":"f1t"},"mark":{"type":"line","color":"#3a3a3a","strokeWidth":1}},
{"data":{"name":"f1n"},"mark":{"type":"line","color":"#111","strokeWidth":3}},
{"data":{"values":[{"t":462,"v":-158,"v2":-208.6}]},"mark":{"type":"rule","color":"#222"},"encoding":{"y2":{"field":"v2"}}},
{"data":{"values":[{"t":462,"t2":558,"v":-208.6}]},"mark":{"type":"rule","color":"#222"},"encoding":{"x2":{"field":"t2"}}},
{"data":{"values":[{"t":456,"v":-182,"l":"50pA"}]},"mark":{"type":"text","align":"right","baseline":"middle","fontSize":9.5},"encoding":{"text":{"field":"l"}}},
{"data":{"values":[{"t":513,"v":-223.5,"l":"100ms"}]},"mark":{"type":"text","align":"center","baseline":"middle","fontSize":9.5},"encoding":{"text":{"field":"l"}}},
{"data":{"values":[{"t":418,"v":37,"l":"Baseline"}]},"mark":{"type":"text","align":"center","baseline":"middle","fontSize":13.2},"encoding":{"text":{"field":"l"}}}
]},
{"width":133,"height":105,
"encoding":{"x":{"field":"t","type":"quantitative","scale":{"domain":[-31.5,567],"nice":false,"zero":false},"axis":null},"y":{"field":"v","type":"quantitative","scale":{"domain":[-251,26],"nice":false,"zero":false},"axis":null}},
"layer":[
{"data":{"name":"f2t"},"mark":{"type":"line","color":"#3a3a3a","strokeWidth":1}},
{"data":{"name":"f2n"},"mark":{"type":"line","color":"#111","strokeWidth":3}},
{"data":{"values":[{"t":454.5,"v":-150,"v2":-196}]},"mark":{"type":"rule","color":"#222"},"encoding":{"y2":{"field":"v2"}}},
{"data":{"values":[{"t":454.5,"t2":552,"v":-196}]},"mark":{"type":"rule","color":"#222"},"encoding":{"x2":{"field":"t2"}}},
{"data":{"values":[{"t":448,"v":-165,"l":"50pA"}]},"mark":{"type":"text","align":"right","baseline":"middle","fontSize":9.5},"encoding":{"text":{"field":"l"}}},
{"data":{"values":[{"t":510,"v":-209,"l":"100ms"}]},"mark":{"type":"text","align":"center","baseline":"middle","fontSize":9.5},"encoding":{"text":{"field":"l"}}},
{"data":{"values":[{"t":271,"v":36.5,"l":"100 nM DAMGO"}]},"mark":{"type":"text","align":"center","baseline":"middle","fontSize":13.2},"encoding":{"text":{"field":"l"}}}
]}
]}
]}
]}
]
}
